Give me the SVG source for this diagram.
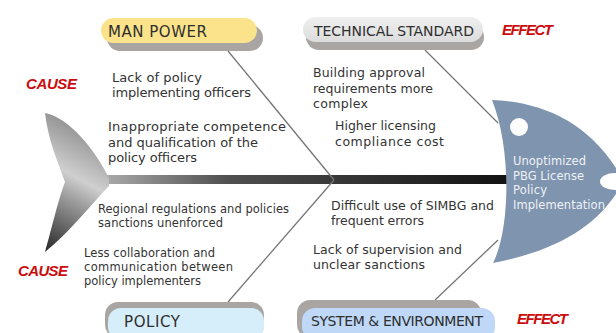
<svg xmlns="http://www.w3.org/2000/svg" width="616" height="333" viewBox="0 0 616 333">
  <style>
    .txt { font-family: "DejaVu Sans", "Liberation Sans", sans-serif; fill: #333333; }
    .ul { font-size: 13px; }
    .ur { font-size: 12.5px; }
    .lr { font-size: 12.5px; }
    .ll { font-size: 11.5px; }
    .title { font-family: "DejaVu Sans", "Liberation Sans", sans-serif; font-size: 14px; fill: #2e2e2e; }
    .big { font-size: 15px; }
    .tag { font-family: "Liberation Sans", Arial, sans-serif; font-size: 15px; font-weight: bold; font-style: italic; fill: #cc0c0c; }
    .head-txt { font-family: "DejaVu Sans", "Liberation Sans", sans-serif; font-size: 11.5px; fill: #eef2f7; }
    .bone { stroke: #767676; stroke-width: 1.3; fill: none; }
    .shadow { fill: #a9a5a3; }
  </style>
  <defs>
    <linearGradient id="spineGrad" x1="0" y1="0" x2="1" y2="0">
      <stop offset="0" stop-color="#aaaaaa"/>
      <stop offset="0.3" stop-color="#505050"/>
      <stop offset="1" stop-color="#121212"/>
    </linearGradient>
    <linearGradient id="tailGrad" x1="0.25" y1="0" x2="0" y2="1">
      <stop offset="0" stop-color="#8e8e8e"/>
      <stop offset="0.38" stop-color="#cfcfcf"/>
      <stop offset="0.55" stop-color="#9c9c9c"/>
      <stop offset="1" stop-color="#262626"/>
    </linearGradient>
    <linearGradient id="greyPill" x1="0" y1="0" x2="0" y2="1">
      <stop offset="0" stop-color="#efefef"/>
      <stop offset="1" stop-color="#dcdcdc"/>
    </linearGradient>
  </defs>

  <!-- bones: backbone and the four category branches -->
  <g id="connectors">
    <rect x="105" y="175" width="405" height="9" fill="url(#spineGrad)"/>
    <line class="bone" x1="228" y1="51" x2="334" y2="180"/>
    <line class="bone" x1="425" y1="50" x2="498" y2="123"/>
    <line class="bone" x1="334" y1="180" x2="228" y2="302"/>
    <line class="bone" x1="435" y1="300" x2="498" y2="240"/>
  </g>

  <!-- fish tail -->
  <g id="tail">
    <path d="M45,113 C70,118 95,150 109,178 L109,186 C95,200 70,232 45,252 C50,235 58,200 65,182 C58,162 48,140 45,113 Z" fill="url(#tailGrad)"/>
  </g>

  <!-- fish head: the effect -->
  <g id="head">
    <path d="M492,100 C540,102 585,120 616,168 L616,194 C595,225 560,250 493,263 C510,230 512,150 492,100 Z" fill="#7f94ae"/>
    <circle cx="519" cy="127" r="9" fill="#ffffff"/>
    <ellipse cx="615" cy="181.5" rx="15" ry="8.5" fill="#ffffff"/>
    <text class="head-txt" x="513" y="165" textLength="73">Unoptimized</text>
    <text class="head-txt" x="513" y="179.5" textLength="71">PBG License</text>
    <text class="head-txt" x="513" y="194" textLength="34">Policy</text>
    <text class="head-txt" x="513" y="208.5" textLength="92">Implementation</text>
  </g>

  <g id="man-power">
    <rect class="shadow" x="107" y="25" width="156" height="26" rx="13"/>
    <rect x="101" y="18" width="156" height="25" rx="12.5" fill="#fbe38b"/>
    <text class="title big" x="108" y="36.5" textLength="99">MAN POWER</text>
  </g>

  <g id="technical-standard">
    <rect class="shadow" x="306" y="24" width="178" height="26" rx="13"/>
    <rect x="303" y="17" width="180" height="25" rx="12.5" fill="url(#greyPill)"/>
    <text class="title" x="314" y="35.5" textLength="160">TECHNICAL STANDARD</text>
  </g>

  <g id="policy">
    <rect class="shadow" x="105" y="302" width="159" height="36" rx="13"/>
    <rect x="108" y="308" width="156" height="32" rx="13" fill="#d6eefa"/>
    <text class="title big" x="124" y="326.5" textLength="56">POLICY</text>
  </g>

  <g id="system-environment">
    <rect class="shadow" x="297" y="300" width="184" height="38" rx="13"/>
    <rect x="302" y="308" width="193" height="32" rx="13" fill="#bfd8f8"/>
    <text class="title" x="311" y="326" textLength="172">SYSTEM &amp; ENVIRONMENT</text>
  </g>

  <g id="labels">
    <text class="tag" x="26" y="88.5" textLength="51">CAUSE</text>
    <text class="tag" x="18" y="275.5" textLength="50">CAUSE</text>
    <text class="tag" x="502" y="35" textLength="51">EFFECT</text>
    <text class="tag" x="517" y="324" textLength="51">EFFECT</text>
  </g>

  <g id="man-power-causes">
    <text class="txt ul" x="112" y="81.5" textLength="90">Lack of policy</text>
    <text class="txt ul" x="112" y="96.5" textLength="139">implementing officers</text>
    <text class="txt ul" x="108" y="131" textLength="178">Inappropriate competence</text>
    <text class="txt ul" x="108" y="146.5" textLength="150">and qualification of the</text>
    <text class="txt ul" x="108" y="161.5" textLength="89">policy officers</text>
  </g>

  <g id="technical-causes">
    <text class="txt ur" x="313" y="77" textLength="112">Building approval</text>
    <text class="txt ur" x="313" y="92.5" textLength="120">requirements more</text>
    <text class="txt ur" x="313" y="108" textLength="55">complex</text>
    <text class="txt ur" x="335" y="130" textLength="101">Higher licensing</text>
    <text class="txt ur" x="335" y="146" textLength="109">compliance cost</text>
  </g>

  <g id="policy-causes">
    <text class="txt ll" x="98" y="212.5" textLength="191">Regional regulations and policies</text>
    <text class="txt ll" x="98" y="227" textLength="125">sanctions unenforced</text>
    <text class="txt ll" x="84" y="256.5" textLength="131">Less collaboration and</text>
    <text class="txt ll" x="84" y="270.5" textLength="149">communication between</text>
    <text class="txt ll" x="84" y="284.5" textLength="117">policy implementers</text>
  </g>

  <g id="system-causes">
    <text class="txt lr" x="331" y="210" textLength="163">Difficult use of SIMBG and</text>
    <text class="txt lr" x="331" y="225" textLength="93">frequent errors</text>
    <text class="txt lr" x="313" y="254" textLength="149">Lack of supervision and</text>
    <text class="txt lr" x="313" y="269" textLength="112">unclear sanctions</text>
  </g>
</svg>
